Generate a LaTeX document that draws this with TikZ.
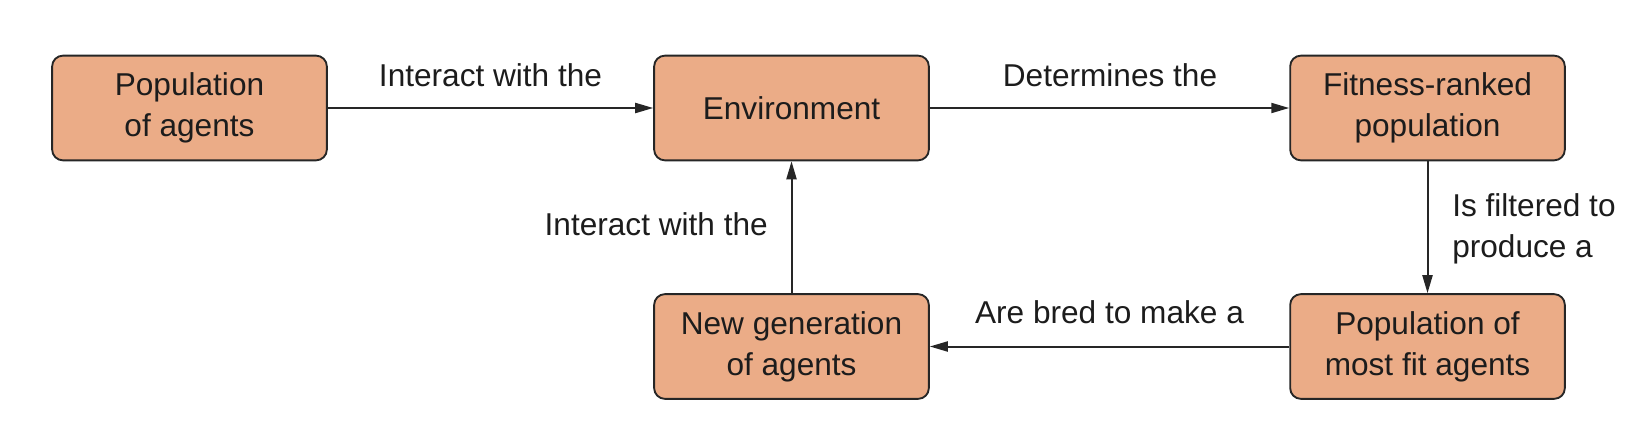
\documentclass[tikz,border=0pt]{standalone}
\usepackage{fontspec}
\setmainfont{Liberation Sans}
\usetikzlibrary{arrows.meta}
\definecolor{boxfill}{HTML}{EBAC87}
\definecolor{boxline}{HTML}{262626}
\definecolor{txt}{HTML}{1C1C1C}
\tikzset{
  x=0.75pt, y=-0.75pt,
  stagebox/.style={draw=boxline, fill=boxfill, line width=1.4pt, rounded corners=8pt,
    minimum width=206pt, minimum height=78.5pt, align=center, text=txt,
    font=\fontsize{23.7}{30.5}\selectfont, inner sep=0pt},
  lbl/.style={text=txt, font=\fontsize{23.7}{30.5}\selectfont, inner sep=0pt},
  flow/.style={draw=boxline, line width=1.5pt, -{Triangle[length=13.5pt,width=7.5pt]}},
}
\begin{document}
\begin{tikzpicture}
\useasboundingbox (0,0) rectangle (1640,432);
\node[stagebox] (b1) at (189.5,108) {Population\\of agents};
\node[stagebox] (b2) at (791.5,108) {Environment};
\node[stagebox] (b3) at (1427.5,108) {Fitness-ranked\\population};
\node[stagebox] (b4) at (791.5,346.5) {New generation\\of agents};
\node[stagebox] (b5) at (1427.5,346.5) {Population of\\most fit agents};
\draw[flow] (b1) -- (b2);
\draw[flow] (b2) -- (b3);
\draw[flow] (b3) -- (b5);
\draw[flow] (b5) -- (b4);
\draw[flow] (b4) -- (b2);
\node[lbl, anchor=base] (l1) at (490.5,86) {Interact with the};
\node[lbl, anchor=base] (l2) at (1110,86) {Determines the};
\node[lbl, anchor=base east] (l3) at (768,235) {Interact with the};
\node[lbl, anchor=west, align=left] (l4) at (1452,229) {Is filtered to\\produce a};
\node[lbl, anchor=base] (l5) at (1109.5,323) {Are bred to make a};
\end{tikzpicture}
\end{document}
